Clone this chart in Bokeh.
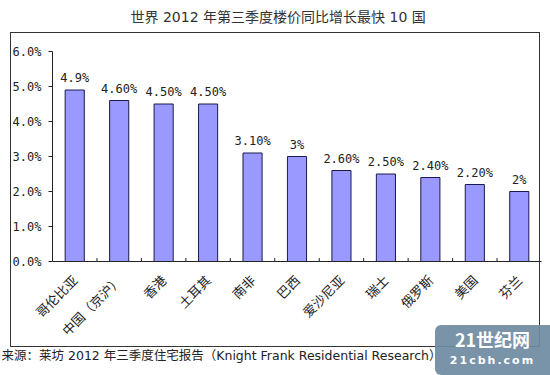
import math
from bokeh.plotting import figure
from bokeh.models import ColumnDataSource, Range1d, FixedTicker, Title, InlineStyleSheet
from bokeh.core.properties import value
from bokeh.embed import file_html
from bokeh.resources import INLINE

# ---- data ----
categories = ["哥伦比亚", "中国（京沪）", "香港", "土耳其", "南非", "巴西",
              "爱沙尼亚", "瑞士", "俄罗斯", "美国", "芬兰"]
growth = [4.9, 4.6, 4.5, 4.5, 3.1, 3.0, 2.6, 2.5, 2.4, 2.2, 2.0]
value_labels = ["4.9%", "4.60%", "4.50%", "4.50%", "3.10%", "3%", "2.60%",
                "2.50%", "2.40%", "2.20%", "2%"]
y_ticks = [0, 1, 2, 3, 4, 5, 6]
y_tick_labels = ["0.0%", "1.0%", "2.0%", "3.0%", "4.0%", "5.0%", "6.0%"]
title_text = "世界 2012 年第三季度楼价同比增长最快 10 国"
source_text = "来源：莱坊 2012 年三季度住宅报告（Knight Frank Residential Research）"

n = len(categories)
xs = [i + 0.5 for i in range(n)]
src = ColumnDataSource(dict(x=xs, top=growth, lab=value_labels))

W, H = 550, 375
p = figure(width=W, height=H, output_backend="svg", toolbar_location=None,
           x_range=Range1d(0, n), y_range=Range1d(0, 6),
           min_border_left=52, min_border_right=9, min_border_top=51,
           min_border_bottom=114)
p.background_fill_alpha = 0
p.border_fill_alpha = 0
p.outline_line_color = None
p.grid.grid_line_color = None

mono = "DejaVu Sans Mono"
cjk = "Noto Sans CJK SC"
mixed = "DejaVu Sans, Noto Sans CJK SC"

p.vbar(x="x", top="top", width=0.43, bottom=0, source=src,
       fill_color="#9999FF", line_color="#1a1a4d", line_width=1)
p.text(x="x", y="top", text="lab", source=src, text_align="center",
       text_baseline="bottom", y_offset=-5, text_font=value(mono),
       text_font_size="12px", text_color="#222222")

# category boundary ticks (inside)
bounds = list(range(1, n))
p.segment(x0=bounds, y0=[0] * len(bounds), x1=bounds, y1=[0.1] * len(bounds),
          line_color="#222222", line_width=1)

# y axis
p.yaxis.ticker = FixedTicker(ticks=y_ticks)
p.yaxis.major_label_overrides = {t: l for t, l in zip(y_ticks, y_tick_labels)}
p.yaxis.major_label_text_font = mono
p.yaxis.major_label_text_font_size = "12px"
p.yaxis.major_label_text_color = "#222222"
p.yaxis.major_tick_in = 0
p.yaxis.major_tick_out = 4
p.yaxis.minor_tick_line_color = None
p.yaxis.axis_line_color = "#222222"
p.yaxis.major_tick_line_color = "#222222"
p.yaxis.major_label_standoff = 7

# x axis
p.xaxis.ticker = FixedTicker(ticks=xs)
p.xaxis.major_label_overrides = {x: c for x, c in zip(xs, categories)}
p.xaxis.major_label_orientation = math.pi / 4
p.xaxis.major_label_text_font = cjk
p.xaxis.major_label_text_font_size = "13px"
p.xaxis.major_label_text_color = "#222222"
p.xaxis.major_tick_in = 0
p.xaxis.major_tick_out = 0
p.xaxis.minor_tick_line_color = None
p.xaxis.axis_line_color = "#222222"
p.xaxis.major_label_standoff = 16

# title (a blank spacer title between it and the plot pushes it to the top)
p.add_layout(Title(text=" ", text_font_size="1px", standoff=19), "above")
p.add_layout(Title(text=title_text, align="left", text_font=mixed,
                   text_font_size="14px", text_font_style="normal",
                   text_color="#333333", standoff=10, offset=78), "above")
try:
    src_title = Title(text=source_text, align="left", text_font=mixed,
                      text_font_size="12.5px", text_font_style="normal",
                      text_color="#222222", offset=-51, standoff=-7)
except Exception:
    src_title = Title(text=source_text, align="left", text_font=mixed,
                      text_font_size="12.5px", text_font_style="normal",
                      text_color="#222222", offset=-51, standoff=0)
p.add_layout(src_title, "below")

# outer chart frame (host background) + site watermark (decoration, CSS)
line = "linear-gradient(#333,#333)"
css = f"""
:host {{
  position: relative;
  background:
    {line} 10px 32px / 530px 1px no-repeat,
    {line} 10px 346px / 530px 1px no-repeat,
    {line} 10px 32px / 1px 315px no-repeat,
    {line} 539px 32px / 1px 315px no-repeat,
    #ffffff;
}}
:host::before {{
  content: "21世纪网"; position: absolute;
  left: 435px; top: 325px; width: 115px; height: 50px; padding-top: 2px;
  box-sizing: border-box;
  background: rgba(111,139,163,0.93); border-radius: 6px 0 0 6px; color: white;
  font-family: 'Noto Sans CJK SC'; font-weight: bold; font-size: 18px;
  line-height: 24px; text-align: center; pointer-events: none; z-index: 6;
}}
:host::after {{
  content: "21cbh.com"; position: absolute;
  left: 435px; top: 352px; width: 115px; height: 18px;
  color: white; font-family: 'DejaVu Sans'; font-weight: bold;
  font-size: 11px; letter-spacing: 2px; line-height: 18px;
  text-align: center; pointer-events: none; z-index: 7;
}}
"""
p.stylesheets = [InlineStyleSheet(css=css)]

open("out.html", "w").write(file_html(p, INLINE))
